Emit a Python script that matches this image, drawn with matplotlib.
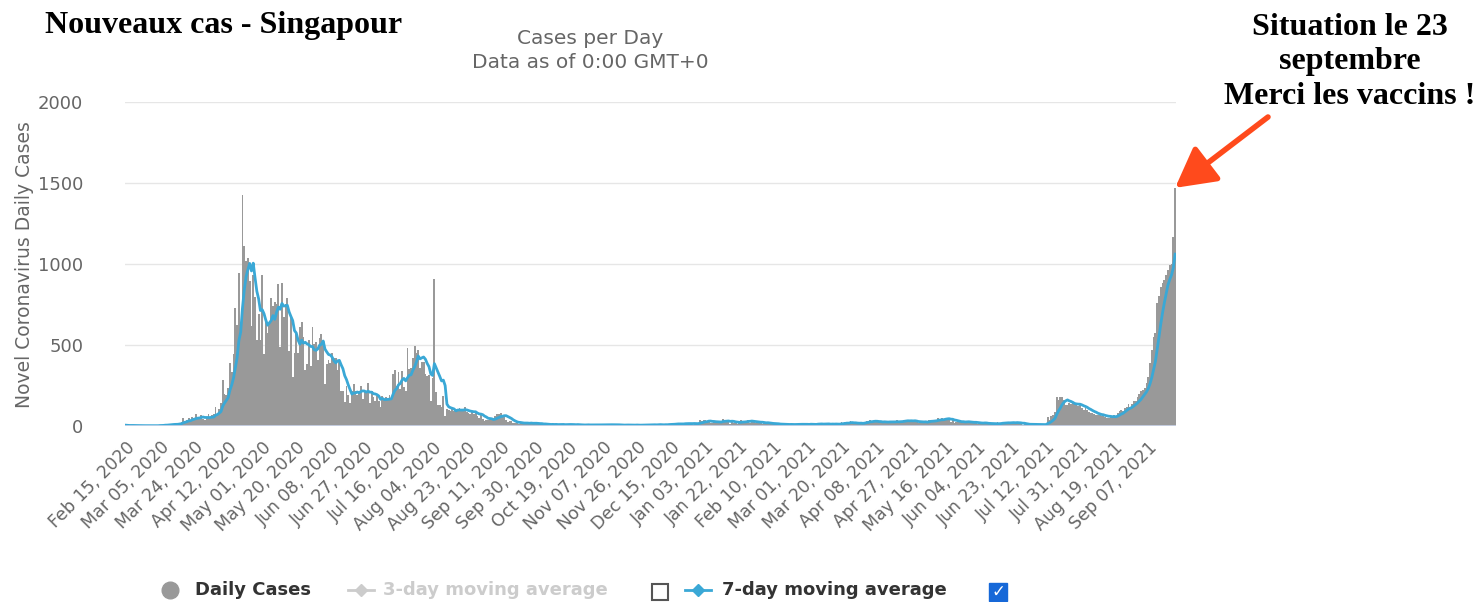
import numpy as np
import pandas as pd
import matplotlib
matplotlib.use("Agg")
import matplotlib.pyplot as plt
from matplotlib.lines import Line2D
from matplotlib.patches import Rectangle

# Daily new cases, Singapore (one value per day, from Feb 15, 2020)
feb_2020 = [5, 3, 2, 4, 3, 1, 3, 3, 3, 1, 2, 2, 0, 2, 4]
mar_2020 = [2, 2, 2, 2, 7, 3, 8, 12, 4, 10, 12, 9, 13, 12, 14, 17, 23, 47, 32, 40,
            47, 23, 54, 49, 73, 52, 49, 70, 42, 35, 47]
apr_2020 = [74, 49, 65, 75, 120, 66, 106, 142, 287, 198, 191, 233, 386, 334, 447, 728,
            623, 942, 596, 1426, 1111, 1016, 1037, 897, 618, 931, 799, 528, 690, 528]
may_2020 = [932, 447, 657, 573, 632, 788, 741, 768, 753, 876, 486, 884, 675, 752, 793,
            465, 682, 305, 451, 570, 448, 614, 642, 548, 344, 383, 533, 373, 611, 506, 518]
jun_2020 = [408, 544, 569, 517, 261, 383, 407, 386, 451, 417, 422, 347, 407, 214, 218,
            151, 247, 191, 142, 218, 262, 218, 191, 213, 246, 169, 213, 213, 264, 143]
jul_2020 = [215, 180, 157, 183, 155, 120, 183, 165, 179, 166, 191, 170, 322, 347, 248,
            334, 226, 337, 242, 216, 481, 354, 359, 417, 492, 451, 469, 359, 398, 395, 322]
aug_2020 = [307, 313, 155, 295, 908, 212, 132, 128, 118, 188, 62, 106, 96, 93, 102, 90,
            105, 96, 111, 90, 94, 116, 84, 80, 71, 94, 77, 93, 61, 47, 71]
sep_2020 = [45, 32, 40, 38, 49, 36, 39, 64, 72, 71, 78, 61, 60, 40, 27, 30, 28, 19, 18,
            23, 14, 21, 16, 17, 19, 17, 15, 22, 12, 16]
oct_2020 = [18, 11, 11, 13, 8, 11, 8, 9, 7, 14, 9, 11, 4, 10, 11, 8, 6, 12, 11, 8, 10,
            7, 3, 11, 5, 8, 3, 8, 11, 5, 7]
nov_2020 = [6, 5, 7, 11, 7, 6, 6, 9, 7, 11, 11, 5, 6, 6, 8, 5, 6, 6, 3, 10, 6, 6, 4, 6,
            4, 7, 5, 5, 8, 8]
dec_2020 = [5, 6, 10, 8, 6, 10, 5, 10, 11, 5, 5, 11, 9, 13, 13, 11, 14, 12, 18, 8, 16,
            11, 21, 18, 13, 16, 9, 20, 10, 16, 34]
jan_2021 = [30, 35, 34, 27, 35, 19, 20, 26, 25, 31, 21, 29, 45, 26, 32, 33, 14, 29, 21,
            25, 13, 23, 35, 24, 33, 30, 40, 17, 35, 23, 16]
feb_2021 = [22, 23, 29, 15, 22, 11, 20, 14, 11, 18, 10, 14, 9, 8, 10, 11, 9, 11, 9, 11,
            4, 10, 14, 9, 14, 12, 11, 8]
mar_2021 = [5, 10, 17, 10, 8, 11, 20, 8, 15, 11, 12, 14, 11, 9, 13, 12, 15, 9, 11, 24,
            17, 23, 26, 13, 29, 16, 14, 16, 12, 21, 16]
apr_2021 = [20, 27, 33, 26, 38, 25, 30, 28, 24, 22, 24, 22, 31, 26, 21, 30, 23, 28, 19,
            38, 23, 27, 33, 37, 38, 29, 35, 26, 22, 39]
may_2021 = [25, 17, 23, 25, 25, 27, 26, 40, 36, 28, 35, 32, 47, 40, 52, 38, 49, 49, 41,
            27, 36, 21, 24, 28, 25, 26, 26, 24, 25, 30, 18]
jun_2021 = [18, 18, 27, 14, 19, 18, 13, 24, 15, 13, 12, 13, 13, 12, 24, 13, 20, 25, 20,
            20, 16, 22, 16, 27, 19, 27, 15, 10, 8, 14]
jul_2021 = [10, 7, 11, 13, 8, 10, 8, 10, 5, 11, 7, 10, 56, 38, 61, 67, 88, 182, 163, 179,
            182, 162, 130, 130, 140, 136, 141, 134, 143, 121, 127]
aug_2021 = [113, 98, 110, 97, 89, 82, 80, 72, 66, 66, 69, 62, 71, 53, 52, 49, 61, 55, 67,
            63, 81, 92, 97, 94, 114, 120, 133, 116, 134, 152, 156]
sep_2021 = [180, 200, 215, 222, 235, 263, 300, 388, 470, 551, 574, 758, 800, 860, 880,
            900, 930, 963, 994, 1000, 1169, 1470]

months = [feb_2020, mar_2020, apr_2020, may_2020, jun_2020, jul_2020, aug_2020, sep_2020,
          oct_2020, nov_2020, dec_2020, jan_2021, feb_2021, mar_2021, apr_2021, may_2021,
          jun_2021, jul_2021, aug_2021, sep_2021]
daily = [v for m in months for v in m]
dates = pd.date_range("2020-02-15", periods=len(daily), freq="D")
avg7 = pd.Series(daily).rolling(7, min_periods=1).mean()

W, H = 1480, 602
fig = plt.figure(figsize=(W / 100, H / 100), dpi=100)
ax = fig.add_axes([125 / W, 1 - 426 / H, (1176 - 125) / W, (426 - 102) / H])

def px(x, y):
    return (x / W, 1 - y / H)

bar_col = "#999999"
line_col = "#3aa8d6"
txt_col = "#666666"

ax.bar(dates, daily, width=1.0, color=bar_col, linewidth=0, zorder=2)
ax.plot(dates, avg7, color=line_col, lw=2.0, zorder=3)

ax.set_ylim(0, 2000)
ax.set_xlim(dates[0] - pd.Timedelta(hours=12), dates[-1] + pd.Timedelta(hours=12))
ax.set_yticks([0, 500, 1000, 1500, 2000])
ax.grid(axis="y", color="#e6e6e6", lw=1, zorder=0)
ax.axhline(0, color="#ccd6eb", lw=1.2, zorder=4)
for s in ax.spines.values():
    s.set_visible(False)

ticks = dates[::19]
ax.set_xticks(ticks)
ax.set_xticklabels([d.strftime("%b %d, %Y") for d in ticks], rotation=45,
                   ha="right", rotation_mode="anchor", fontsize=12.5, color=txt_col)
ax.tick_params(axis="x", length=0, pad=9)
ax.tick_params(axis="y", length=0, pad=30, labelsize=13, labelcolor=txt_col)

fig.text(*px(25, 265), "Novel Coronavirus Daily Cases", rotation=90, ha="center",
         va="center", fontsize=13.5, color=txt_col)
fig.text(*px(590, 38), "Cases per Day", ha="center", va="center", fontsize=14.5, color=txt_col)
fig.text(*px(590, 62), "Data as of 0:00 GMT+0", ha="center", va="center", fontsize=14.5,
         color=txt_col)

# overlay titles
fig.text(*px(45, 25), "Nouveaux cas - Singapour", ha="left", va="center",
         family="Liberation Serif", weight="bold", fontsize=23, color="black")
fig.text(*px(1350, 62), "Situation le 23\nseptembre\nMerci les vaccins !", ha="center",
         va="center", family="Liberation Serif", weight="bold", fontsize=23,
         color="black", linespacing=1.27)
ax.annotate("", xy=(dates[-1], daily[-1]), xycoords="data",
            xytext=px(1268, 117), textcoords="figure fraction",
            arrowprops=dict(arrowstyle="-|>,head_length=1.1,head_width=0.6",
                            color="#ff4a1c", lw=4, mutation_scale=22,
                            shrinkA=0, shrinkB=0))

# legend drawn by hand
ly = 590
fig.add_artist(Line2D([px(170, ly)[0]], [px(170, ly)[1]], marker="o", ms=12,
                      color=bar_col, transform=fig.transFigure))
fig.text(*px(195, ly), "Daily Cases", ha="left", va="center", fontsize=13,
         weight="bold", color="#333333")
fig.add_artist(Line2D([px(348, ly)[0], px(374, ly)[0]], [px(0, ly)[1]] * 2, lw=2,
                      color="#cccccc", transform=fig.transFigure))
fig.add_artist(Line2D([px(361, ly)[0]], [px(0, ly)[1]], marker="D", ms=6,
                      color="#cccccc", transform=fig.transFigure))
fig.text(*px(383, ly), "3-day moving average", ha="left", va="center", fontsize=13,
         weight="bold", color="#cccccc")
fig.add_artist(Rectangle(px(652, 600), 16 / W, 16 / H, fill=False, ec="#555555",
                         lw=1.5, transform=fig.transFigure))
fig.add_artist(Line2D([px(685, ly)[0], px(711, ly)[0]], [px(0, ly)[1]] * 2, lw=2,
                      color=line_col, transform=fig.transFigure))
fig.add_artist(Line2D([px(698, ly)[0]], [px(0, ly)[1]], marker="D", ms=6,
                      color=line_col, transform=fig.transFigure))
fig.text(*px(722, ly), "7-day moving average", ha="left", va="center", fontsize=13,
         weight="bold", color="#333333")
fig.add_artist(Rectangle(px(989, 601), 18 / W, 18 / H, fc="#1668d8", ec="#1668d8",
                         lw=1, transform=fig.transFigure))
fig.text(*px(998, 592), "\u2713", ha="center", va="center", fontsize=12, color="white",
         weight="bold")

fig.savefig("out.png", dpi=100)
